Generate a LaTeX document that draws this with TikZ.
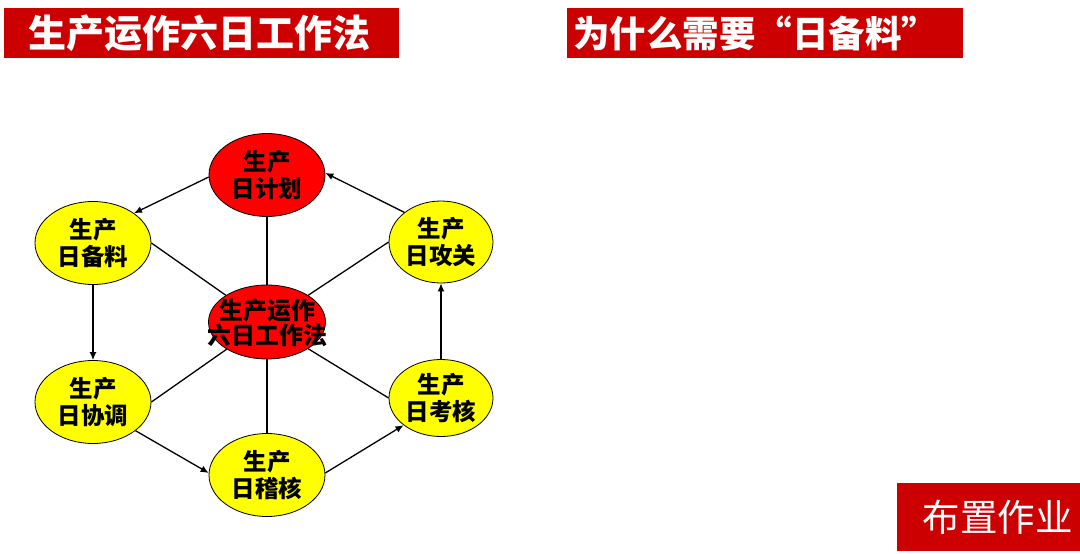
\documentclass[tikz,border=0pt]{standalone}
\usepackage{fontspec}
\setmainfont{Noto Sans CJK SC}
\usetikzlibrary{shapes.geometric,arrows.meta}
\definecolor{barred}{RGB}{204,0,0}
\definecolor{nodered}{RGB}{255,0,0}
\definecolor{nodeyellow}{RGB}{255,255,0}
\begin{document}
\begin{tikzpicture}[x=1pt,y=-1pt,
  bar/.style={fill=barred,draw=none,inner sep=0pt,anchor=north west},
  titletext/.style={text=white,font=\fontsize{38}{40}\selectfont\bfseries,inner sep=0pt},
  dayyellow/.style={ellipse,draw=black,line width=0.8pt,fill=nodeyellow,inner sep=0pt,
     minimum width=116pt,minimum height=83pt,align=center,
     font=\fontsize{23.5}{27}\selectfont\bfseries},
  dayred/.style={dayyellow,fill=nodered},
  link/.style={line width=1.3pt,draw=black},
  flow/.style={link,-{Latex[length=8pt,width=7pt]}}
]
\useasboundingbox[fill=white] (0,0) rectangle (1080,554);

% title bars
\node[bar,minimum width=395pt,minimum height=50pt] (bar1) at (4,8) {};
\node[titletext] (t1) at ([xshift=-2pt]bar1.center) {生产运作六日工作法};
\node[bar,minimum width=396pt,minimum height=50pt] (bar2) at (567,8) {};
\node[titletext,font=\fontsize{36.5}{40}\selectfont\bfseries,anchor=west] (t2) at ([xshift=6pt]bar2.west) {为什么需要“日备料”};
\node[bar,minimum width=183pt,minimum height=68pt] (bar3) at (897,483) {};
\node[text=white,font=\fontsize{37.5}{40}\selectfont,inner sep=0pt] (t3) at ([xshift=9pt]bar3.center) {布置作业};

% nodes
\node[dayred] (jh) at (267,175) {生产\\日计划};
\node[dayyellow] (bl) at (93,243) {生产\\日备料};
\node[dayyellow,minimum width=104pt,minimum height=82pt] (gg) at (441,242) {生产\\日攻关};
\node[dayyellow] (xt) at (93,402) {生产\\日协调};
\node[dayyellow,minimum width=104pt,minimum height=77pt] (kh) at (441,398) {生产\\日考核};
\node[dayyellow] (jc) at (267,475) {生产\\日稽核};
\node[dayred,minimum width=117pt,minimum height=74pt] (c) at (267,322) {};

% spokes
\draw[link] (jh.south) -- (c.north);
\draw[link] (jc.north) -- (c.south);
\draw[link] (bl.east) -- (c.147);
\draw[link] (gg.west) -- (c.33);
\draw[link] (xt.east) -- (c.214);
\draw[link] (kh.west) -- (c.-33);

\node[font=\fontsize{24}{25}\selectfont\bfseries,align=center,inner sep=0pt] (ct) at (267,323) {生产运作\\六日工作法};

% cycle
\draw[flow] (jh.182) -- (bl.36);
\draw[flow] (bl.south) -- (xt.north);
\draw[flow] (xt.-34) -- (jc.178);
\draw[flow] (jc.2) -- (kh.216);
\draw[flow] (kh.north) -- (gg.south);
\draw[flow] (gg.141) -- (jh.2);
\end{tikzpicture}
\end{document}
